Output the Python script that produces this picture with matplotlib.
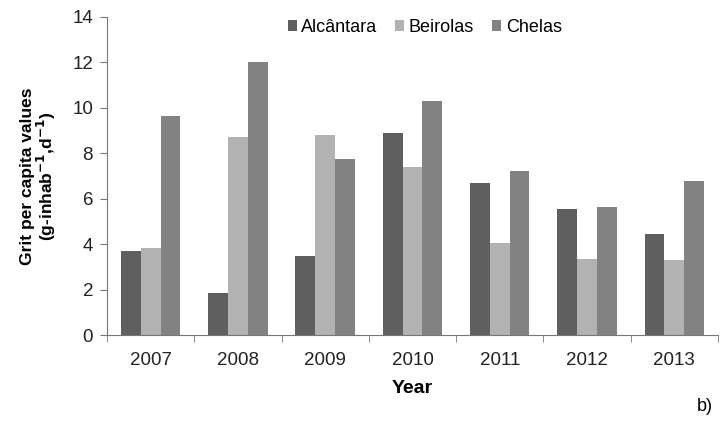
import numpy as np
import matplotlib.pyplot as plt
from matplotlib.ticker import FixedLocator

plt.rcParams['font.family'] = ['Liberation Sans', 'DejaVu Sans']

years = ['2007', '2008', '2009', '2010', '2011', '2012', '2013']
alcantara = [3.70, 1.84, 3.49, 8.88, 6.71, 5.54, 4.45]
beirolas = [3.82, 8.71, 8.82, 7.39, 4.04, 3.35, 3.29]
chelas = [9.65, 12.03, 7.74, 10.32, 7.24, 5.63, 6.77]

series = [('Alcântara', alcantara, '#5f5f5f'),
          ('Beirolas', beirolas, '#b2b2b2'),
          ('Chelas', chelas, '#828282')]

fig = plt.figure(figsize=(7.23, 4.21), dpi=100)
ax = fig.add_axes([0.148, 0.204, 0.845, 0.756])

x = np.arange(len(years))
w = 0.227
for i, (name, vals, col) in enumerate(series):
    ax.bar(x + (i - 1) * w, vals, w, color=col, label=name)

ax.set_xlim(-0.5, len(years) - 0.5)
ax.set_ylim(0, 14)
ax.set_yticks(range(0, 15, 2))
ax.set_xticks(x)
ax.set_xticklabels(years)
# tick marks sit between the year groups
ax.xaxis.set_minor_locator(FixedLocator(np.arange(-0.5, len(years), 1)))
ax.tick_params(axis='x', which='major', length=0, pad=12, labelsize=13.5, colors='#222222')
ax.tick_params(axis='x', which='minor', length=5, color='#777777')
ax.tick_params(axis='y', length=5, color='#777777', labelsize=13.5, labelcolor='#222222', pad=5)

for s in ['top', 'right']:
    ax.spines[s].set_visible(False)
for s in ['left', 'bottom']:
    ax.spines[s].set_color('#777777')

ax.set_xlabel('Year', fontsize=14, fontweight='bold', labelpad=8)
ax.set_ylabel('Grit per capita values\n'
              r'(g-inhab$^{\mathbf{-1}}$,d$^{\mathbf{-1}}$)',
              fontsize=12.5, fontweight='bold', labelpad=10, linespacing=1.0)

ax.legend(loc='upper center', bbox_to_anchor=(0.52, 1.045), ncol=3, frameon=False,
          fontsize=13, handlelength=0.5, handleheight=0.5, handletextpad=0.25,
          columnspacing=1.0)

fig.text(0.975, 0.035, 'b)', fontsize=13, ha='center', va='center')

fig.savefig('out.png', dpi=100)
